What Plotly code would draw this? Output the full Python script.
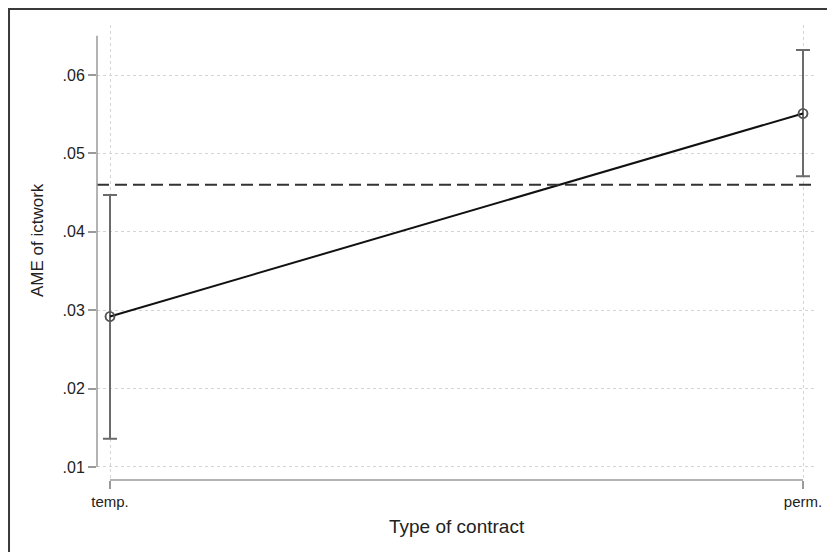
import plotly.graph_objects as go

categories = ["temp.", "perm."]
ame = [0.0292, 0.0551]
ci_low = [0.0136, 0.0471]
ci_high = [0.0447, 0.0632]
overall_ame = 0.0460
ytick_vals = [0.01, 0.02, 0.03, 0.04, 0.05, 0.06]
ytick_text = [".01", ".02", ".03", ".04", ".05", ".06"]
x_title = "Type of contract"
y_title = "AME of ictwork"

xpos = list(range(len(categories)))
err_plus = [h - m for h, m in zip(ci_high, ame)]
err_minus = [m - l for m, l in zip(ame, ci_low)]

font_family = "Liberation Sans, Arial, sans-serif"
axis_gray = "#9a9a9a"
grid_gray = "#d4d4d4"
text_col = "#222222"

fig = go.Figure()

fig.add_trace(go.Scatter(
    x=xpos, y=ame, mode="markers",
    marker=dict(size=9, color="rgba(0,0,0,0)", line=dict(color="#6b6b6b", width=1.6)),
    error_y=dict(type="data", symmetric=False, array=err_plus, arrayminus=err_minus,
                 color="#6b6b6b", thickness=2, width=7),
    showlegend=False, hoverinfo="skip",
))
fig.add_trace(go.Scatter(
    x=xpos, y=ame, mode="lines",
    line=dict(color="#111111", width=2),
    showlegend=False, hoverinfo="skip",
))
fig.add_trace(go.Scatter(
    x=xpos, y=ame, mode="markers",
    marker=dict(size=9, color="rgba(0,0,0,0)", line=dict(color="#555555", width=1.6)),
    showlegend=False, hoverinfo="skip",
))

shapes = [
    dict(type="line", xref="paper", x0=0, x1=1, yref="y", y0=overall_ame, y1=overall_ame,
         line=dict(color="#333333", width=2, dash="12px,6px")),
    dict(type="line", xref="paper", x0=0, x1=0, yref="y", y0=ytick_vals[0], y1=0.065,
         line=dict(color=axis_gray, width=1.5)),
    dict(type="line", xref="x", x0=xpos[0], x1=xpos[-1], yref="paper", y0=0, y1=0,
         line=dict(color=axis_gray, width=1.5)),
    dict(type="rect", xref="paper", yref="paper", x0=-0.1222, x1=1.06, y0=-0.2, y1=1.0352,
         line=dict(color="#3a3a3a", width=2), layer="below"),
]

annotations = [
    dict(text=x_title, xref="paper", yref="paper", x=0.5, y=-0.1011,
         xanchor="center", yanchor="middle", showarrow=False,
         font=dict(size=19, color=text_col)),
    dict(text=y_title, xref="paper", yref="paper", x=-0.0819, y=0.5275,
         xanchor="center", yanchor="middle", showarrow=False, textangle=-90,
         font=dict(size=17, color=text_col)),
]

fig.update_layout(
    width=827, height=544,
    margin=dict(l=89, r=18, t=17, b=72),
    paper_bgcolor="white", plot_bgcolor="white",
    font=dict(family=font_family, color=text_col),
    shapes=shapes,
    annotations=annotations,
    xaxis=dict(
        range=[-0.01876, 1.0202], automargin=False,
        tickmode="array", tickvals=xpos, ticktext=categories,
        ticks="outside", ticklen=8, tickcolor=axis_gray, tickwidth=1.5,
        tickfont=dict(size=15, color=text_col),
        showline=False, zeroline=False,
        showgrid=True, gridcolor=grid_gray, griddash="dot", gridwidth=1,
    ),
    yaxis=dict(
        range=[0.00834, 0.06638], automargin=False,
        tickmode="array", tickvals=ytick_vals, ticktext=ytick_text,
        ticks="outside", ticklen=8, tickcolor=axis_gray, tickwidth=1.5,
        tickfont=dict(size=16, color=text_col),
        showline=False, zeroline=False,
        showgrid=True, gridcolor=grid_gray, griddash="dot", gridwidth=1,
    ),
)

fig.write_html("out.html")
